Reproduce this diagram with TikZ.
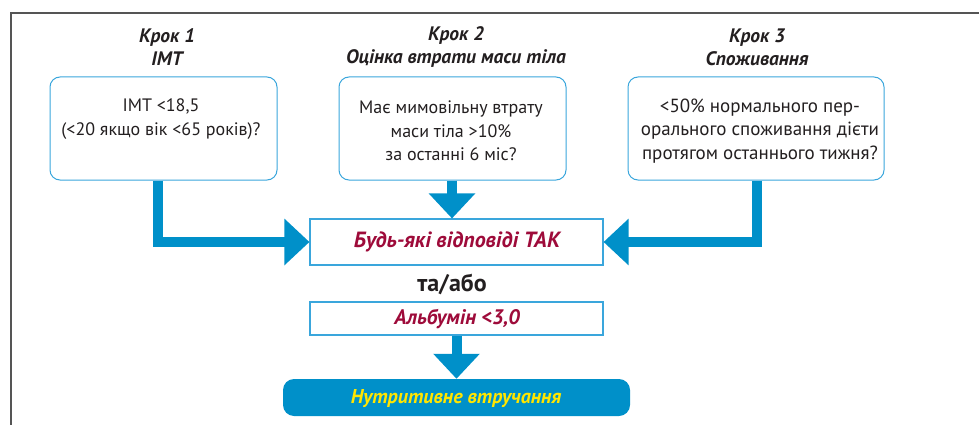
\documentclass[tikz,border=0pt]{standalone}
\usepackage{fontspec}
\setmainfont{PT Sans}
\usetikzlibrary{arrows.meta}
\definecolor{arrowblue}{HTML}{0090C9}
\definecolor{edgeblue}{HTML}{3AA6DC}
\definecolor{yesred}{HTML}{9E0B3A}
\definecolor{finalyellow}{HTML}{FFE600}
\definecolor{ink}{HTML}{231F20}
\definecolor{framegray}{HTML}{555555}
\tikzset{
  qbox/.style={draw=edgeblue, line width=1pt, rounded corners=10pt, fill=white, inner sep=0pt},
  rbox/.style={draw=edgeblue, line width=1.1pt, fill=white, inner sep=0pt},
  steptitle/.style={font=\fontsize{19.5}{23}\selectfont\bfseries\itshape, text=ink, align=center, inner sep=0pt},
  qtext/.style={font=\fontsize{18}{23.5}\selectfont, text=ink, align=center, inner sep=0pt},
  redtext/.style={text=yesred, inner sep=0pt},
  conn/.style={draw=arrowblue, line width=10pt, line join=miter,
    -{Triangle[width=45pt,length=25pt]}},
}
\begin{document}
\begin{tikzpicture}[x=1pt,y=-1pt]
\useasboundingbox (0,0) rectangle (979,425);
% frame
\draw[framegray, line width=1.2pt] (11,425) -- (11,13) -- (979,13);
% titles
\node[steptitle] (t1) at (167,47) {Крок 1\\IMT};
\node[steptitle] (t2) at (456,47) {Крок 2\\Оцінка втрати маси тіла};
\node[steptitle] (t3) at (757,47) {Крок 3\\Споживання};
% question boxes
\node[qbox, minimum width=227pt, minimum height=103pt] (b1) at (163.5,128.5) {};
\node[qbox, minimum width=227pt, minimum height=103pt] (b2) at (452.5,128.5) {};
\node[qbox, minimum width=256pt, minimum height=103pt] (b3) at (756,128.5) {};
\node[qtext] (q1) at (161,119) {IMT <18,5\\(<20 якщо вік <65 років)?};
\node[qtext] (q2) at (451,131) {Має мимовільну втрату\\маси тіла >10\%\\за останні 6 міс?};
\node[qtext, font=\fontsize{19}{23.5}\selectfont] (q3) at (760,131) {<50\% нормального пер-\\орального споживання дієти\\протягом останнього тижня?};
% result boxes
\node[rbox, minimum width=293pt, minimum height=46pt] (tak) at (456.5,242) {};
\node[redtext, font=\fontsize{22}{24}\selectfont\bfseries\itshape] (takt) at (457,242) {Будь-які відповіді ТАК};
\node[font=\fontsize{24}{26}\selectfont\bfseries, text=ink, inner sep=0pt] (andor) at (452,284) {та/або};
\node[rbox, minimum width=293pt, minimum height=33pt] (alb) at (456.5,318.5) {};
\node[redtext, font=\fontsize{21}{24}\selectfont\bfseries\itshape] (albt) at (457,319) {Альбумін <3,0};
\node[fill=arrowblue, rounded corners=11pt, minimum width=347pt, minimum height=37pt, inner sep=0pt] (fin) at (456.5,397.5) {};
\node[font=\fontsize{20}{22}\selectfont\bfseries\itshape, text=finalyellow, inner sep=0pt] (fint) at (456,399) {Нутритивне втручання};
% connectors
\coordinate (c1) at (158,0);
\coordinate (c2) at (452,0);
\coordinate (c3) at (757,0);
\draw[conn] (b1.south -| c1) |- (tak.west);
\draw[conn] (b2.south -| c2) -- (tak.north -| c2);
\draw[conn] (b3.south -| c3) |- (tak.east);
\draw[conn] (alb.south) -- (fin.north);
\end{tikzpicture}
\end{document}
